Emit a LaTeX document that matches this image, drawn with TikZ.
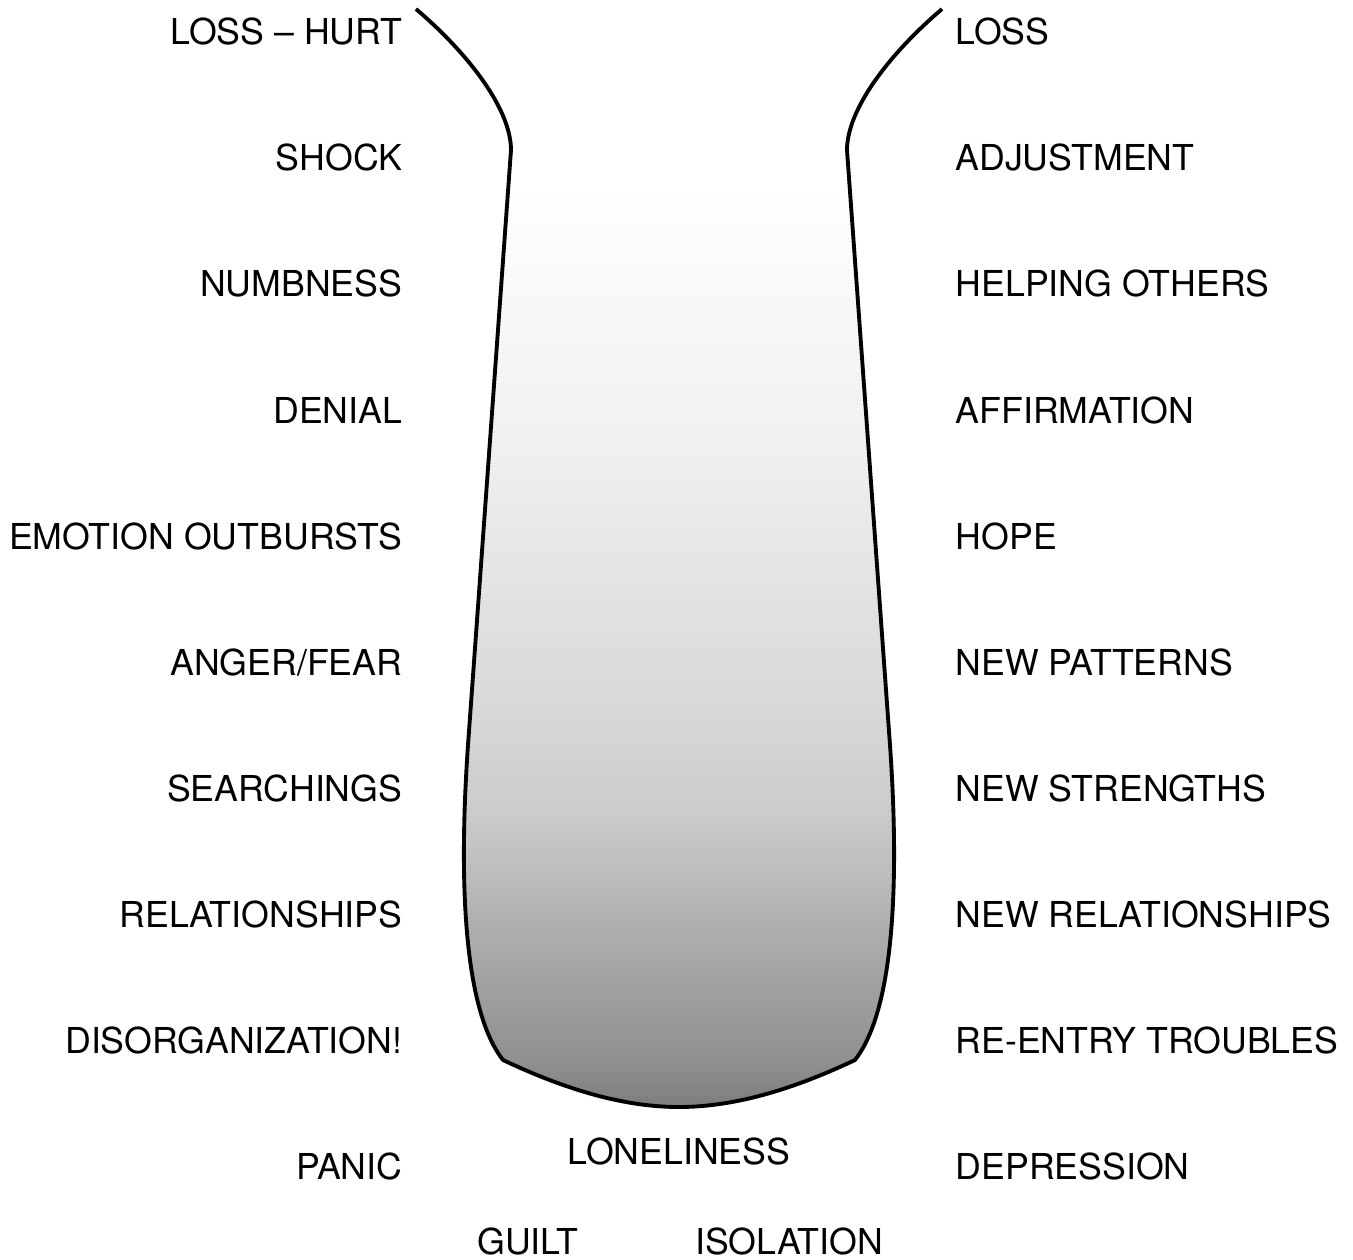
\documentclass[tikz,border=0pt]{standalone}
\usepackage{fontspec}
\setmainfont{TeX Gyre Heros}
\usetikzlibrary{positioning}

\pgfdeclareverticalshading{griefshade}{100bp}{color(0bp)=(black!51); color(25bp)=(black!51); color(27bp)=(black!44); color(32bp)=(black!34); color(38.5bp)=(black!20); color(43.5bp)=(black!15); color(55bp)=(black!6); color(67bp)=(white); color(100bp)=(white)}

\begin{document}
\begin{tikzpicture}[
    x=0.01cm, y=-0.01cm,
    stage_text/.style={
        font=\fontsize{10.15}{12}\selectfont,
        inner sep=0pt,
        text height=0.256cm,
        text depth=0pt
    },
    left_text/.style={stage_text, anchor=east},
    right_text/.style={stage_text, anchor=west},
    valley/.style={
        draw=black,
        line width=1.1pt,
        shade,
        shading=griefshade
    }
]
    \useasboundingbox (0,0) rectangle (1353,1259);

    % Valley outline
    \draw[valley] (416,9) .. controls (470,55) and (511,110) .. (511,150)
        -- (468,745) .. controls (460,860) and (460,1005) .. (503,1060)
        .. controls (560,1087) and (620,1107) .. (679,1107)
        .. controls (738,1107) and (798,1087) .. (855,1060)
        .. controls (898,1005) and (898,860) .. (890,745)
        -- (847,150) .. controls (847,110) and (888,55) .. (942,9);

    % Going down
    \node[left_text] (loss_hurt) at (403,32) {LOSS – HURT};
    \node[below=1.26cm of loss_hurt.east, left_text] (shock) {SHOCK};
    \node[below=1.26cm of shock.east, left_text] (numbness) {NUMBNESS};
    \node[below=1.26cm of numbness.east, left_text] (denial) {DENIAL};
    \node[below=1.26cm of denial.east, left_text] (outbursts) {EMOTION OUTBURSTS};
    \node[below=1.26cm of outbursts.east, left_text] (anger) {ANGER/FEAR};
    \node[below=1.26cm of anger.east, left_text] (searchings) {SEARCHINGS};
    \node[below=1.26cm of searchings.east, left_text] (relations) {RELATIONSHIPS};
    \node[below=1.26cm of relations.east, left_text] (disorg) {DISORGANIZATION!};
    \node[below=1.26cm of disorg.east, left_text] (panic) {PANIC};

    % Coming up
    \node[right_text] (loss) at (955,32) {LOSS};
    \node[below=1.26cm of loss.west, right_text] (adjust) {ADJUSTMENT};
    \node[below=1.26cm of adjust.west, right_text] (helping) {HELPING OTHERS};
    \node[below=1.26cm of helping.west, right_text] (affirm) {AFFIRMATION};
    \node[below=1.26cm of affirm.west, right_text] (hope) {HOPE};
    \node[below=1.26cm of hope.west, right_text] (patterns) {NEW PATTERNS};
    \node[below=1.26cm of patterns.west, right_text] (strengths) {NEW STRENGTHS};
    \node[below=1.26cm of strengths.west, right_text] (new_rel) {NEW RELATIONSHIPS};
    \node[below=1.26cm of new_rel.west, right_text] (reentry) {RE-ENTRY TROUBLES};
    \node[below=1.26cm of reentry.west, right_text] (depression) {DEPRESSION};

    % Bottom of the valley
    \node[stage_text] (loneliness) at (679,1152) {LONELINESS};
    \node[stage_text] (guilt) at (528,1242) {GUILT};
    \node[stage_text] (isolation) at (789,1242) {ISOLATION};

\end{tikzpicture}
\end{document}
